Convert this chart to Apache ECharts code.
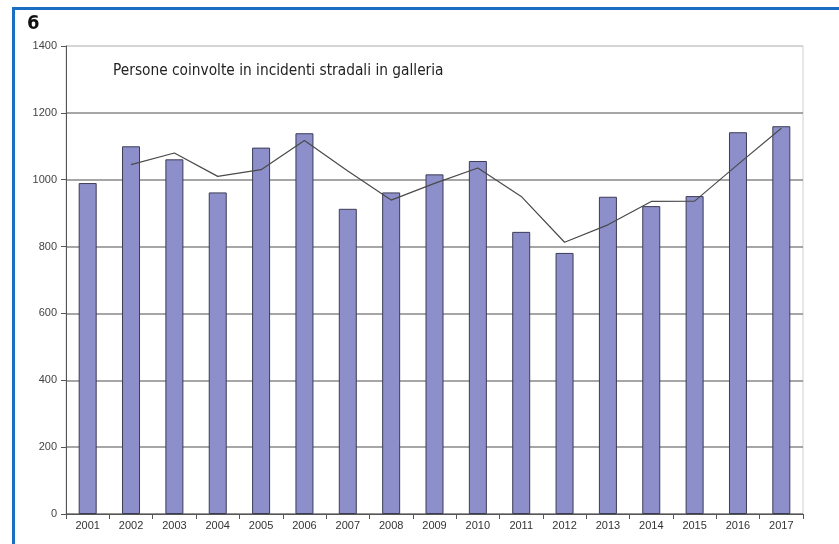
<!DOCTYPE html>
<html>
<head>
<meta charset="utf-8">
<script src="https://cdn.jsdelivr.net/npm/echarts@6/dist/echarts.min.js"></script>
<style>
html,body{margin:0;padding:0;background:#fff;}
#chart{width:839px;height:544px;}
</style>
</head>
<body>
<div id="chart"></div>
<script>
const years = ['2001','2002','2003','2004','2005','2006','2007','2008','2009','2010','2011','2012','2013','2014','2015','2016','2017'];
const persons = [990, 1100, 1061, 962, 1096, 1139, 913, 962, 1016, 1056, 844, 781, 949, 921, 951, 1142, 1160];
const movingAvg = [null, 1045, 1080, 1010, 1030, 1117, 1026, 939, 989, 1035, 950, 813, 865, 935, 936, 1046, 1154];
const yTicks = [0, 200, 400, 600, 800, 1000, 1200, 1400];
const titleText = 'Persone coinvolte in incidenti stradali in galleria';
const figureNumber = '6';

const chart = echarts.init(document.getElementById('chart'), null, {renderer: 'canvas'});
chart.setOption({
  animation: false,
  backgroundColor: '#ffffff',
  graphic: [
    {type: 'rect', shape: {x: 12, y: 7, width: 840, height: 3}, style: {fill: '#1b6ec2'}, silent: true},
    {type: 'rect', shape: {x: 12, y: 7, width: 3, height: 560}, style: {fill: '#1b6ec2'}, silent: true},
    {type: 'text', left: 27, top: 14, style: {text: figureNumber, font: 'bold 20px "DejaVu Sans Condensed", "Liberation Sans Narrow", sans-serif', fill: '#111'}},
    {type: 'text', left: 113, top: 64, style: {text: titleText, font: '15.3px "DejaVu Sans Condensed", "Liberation Sans Narrow", sans-serif', fill: '#222'}}
  ],
  grid: {left: 66, right: 36, top: 46, bottom: 30, show: true, borderColor: '#cfcfcf', borderWidth: 1, backgroundColor: 'transparent'},
  xAxis: {
    type: 'category',
    data: years,
    boundaryGap: true,
    axisLine: {lineStyle: {color: '#555', width: 1}},
    axisTick: {show: true, alignWithLabel: false, length: 5, lineStyle: {color: '#555'}},
    axisLabel: {color: '#333', fontSize: 11, fontFamily: '"Liberation Sans", Arial, sans-serif', margin: 6}
  },
  yAxis: {
    type: 'value',
    min: yTicks[0],
    max: yTicks[yTicks.length - 1],
    interval: 200,
    axisLine: {show: true, lineStyle: {color: '#555', width: 1}},
    axisTick: {show: true, length: 5, lineStyle: {color: '#555'}},
    axisLabel: {color: '#444', fontSize: 11, fontFamily: '"Liberation Sans", Arial, sans-serif', margin: 9, formatter: function (v) { return String(v); }},
    splitLine: {show: true, lineStyle: {color: ['#777', '#888', '#888', '#888', '#888', '#888', '#888', '#cfcfcf'], width: 1.5}}
  },
  series: [
    {
      type: 'bar',
      data: persons,
      barWidth: 18,
      itemStyle: {color: '#8c8fc9', borderColor: '#3c3c55', borderWidth: 1}
    },
    {
      type: 'line',
      data: movingAvg,
      showSymbol: false,
      symbol: 'none',
      connectNulls: false,
      lineStyle: {color: '#4a4a4a', width: 1.2},
      z: 3
    }
  ]
});
</script>
</body>
</html>
